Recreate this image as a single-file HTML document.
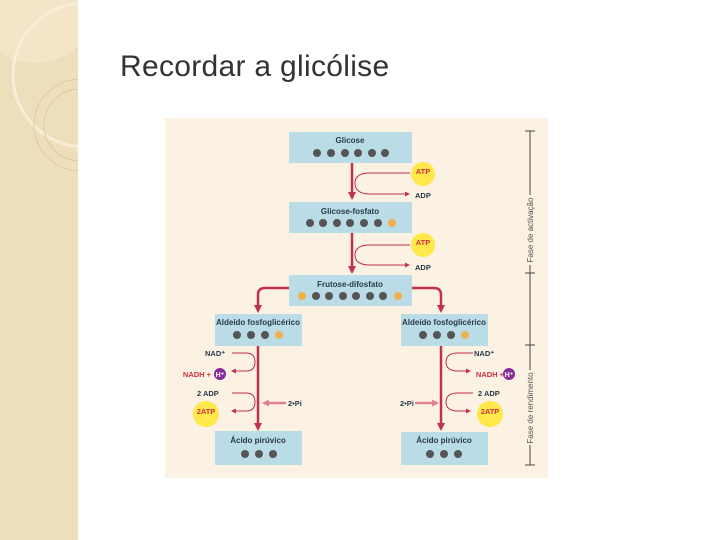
<!DOCTYPE html>
<html><head><meta charset="utf-8"><style>
body{margin:0;width:720px;height:540px;background:#fff;position:relative;overflow:hidden;font-family:"Liberation Sans",sans-serif}
.side{position:absolute;left:0;top:0;width:78px;height:540px;background:#eedfbc}
h1{position:absolute;left:120px;top:50px;margin:0;font-weight:normal;font-size:30px;color:#333;letter-spacing:0.3px}
svg{position:absolute;left:0;top:0}
</style></head><body>
<div class="side"></div>
<h1>Recordar a glicólise</h1>
<svg width="720" height="540" font-family="Liberation Sans, sans-serif">
<defs>
<clipPath id="c"><rect x="0" y="0" width="78" height="540"/></clipPath>
<marker id="a" markerUnits="userSpaceOnUse" markerWidth="8" markerHeight="8" refX="6" refY="4" orient="auto"><path d="M0,0L8,4L0,8z" fill="#c0304f"/></marker>
<marker id="b" markerUnits="userSpaceOnUse" markerWidth="5" markerHeight="5" refX="4" refY="2.5" orient="auto"><path d="M0,0L5,2.5L0,5z" fill="#c0304f"/></marker>
<marker id="p" markerUnits="userSpaceOnUse" markerWidth="7" markerHeight="7" refX="5" refY="3.5" orient="auto"><path d="M0,0L7,3.5L0,7z" fill="#e08090"/></marker>
</defs>
<g clip-path="url(#c)">
<circle cx="35" cy="0" r="63" fill="#f3e6c8"/>
<circle cx="85" cy="75" r="72" fill="none" stroke="#f8eed6" stroke-width="3"/>
<circle cx="80" cy="125" r="46" fill="none" stroke="#d9c59c" stroke-width="0.8"/>
<circle cx="80" cy="125" r="36" fill="none" stroke="#d9c59c" stroke-width="0.8"/>
</g>
<rect x="165" y="118" width="383" height="360" fill="#fbf2e4"/>
<g fill="#b9dce6">
<rect x="289" y="132" width="123" height="31"/><rect x="289" y="202" width="123" height="31"/><rect x="289" y="275" width="123" height="31"/>
<rect x="215" y="314" width="87" height="32"/><rect x="401" y="314" width="87" height="32"/>
<rect x="215" y="431" width="87" height="34"/><rect x="401" y="432" width="87" height="33"/>
</g>
<g font-size="8" font-weight="bold" fill="#2a3a4a" text-anchor="middle">
<text x="350" y="143">Glicose</text><text x="350" y="214">Glicose-fosfato</text><text x="350" y="287">Frutose-difosfato</text>
<text x="258" y="325">Aldeído fosfoglicérico</text><text x="444" y="325">Aldeído fosfoglicérico</text>
<text x="258" y="443">Ácido pirúvico</text><text x="444" y="443">Ácido pirúvico</text>
</g>
<g fill="#555">
<circle cx="317" cy="153" r="4"/><circle cx="331" cy="153" r="4"/><circle cx="345" cy="153" r="4"/><circle cx="358" cy="153" r="4"/><circle cx="372" cy="153" r="4"/><circle cx="385" cy="153" r="4"/>
<circle cx="310" cy="223" r="4"/><circle cx="323" cy="223" r="4"/><circle cx="337" cy="223" r="4"/><circle cx="350" cy="223" r="4"/><circle cx="364" cy="223" r="4"/><circle cx="378" cy="223" r="4"/>
<circle cx="316" cy="296" r="4"/><circle cx="329" cy="296" r="4"/><circle cx="343" cy="296" r="4"/><circle cx="356" cy="296" r="4"/><circle cx="370" cy="296" r="4"/><circle cx="383" cy="296" r="4"/>
<circle cx="237" cy="335" r="4"/><circle cx="251" cy="335" r="4"/><circle cx="265" cy="335" r="4"/>
<circle cx="423" cy="335" r="4"/><circle cx="437" cy="335" r="4"/><circle cx="451" cy="335" r="4"/>
<circle cx="245" cy="454" r="4"/><circle cx="259" cy="454" r="4"/><circle cx="273" cy="454" r="4"/>
<circle cx="430" cy="454" r="4"/><circle cx="444" cy="454" r="4"/><circle cx="458" cy="454" r="4"/>
</g>
<g fill="#f0b050"><circle cx="392" cy="223" r="4"/><circle cx="302" cy="296" r="4"/><circle cx="398" cy="296" r="4"/><circle cx="279" cy="335" r="4"/><circle cx="465" cy="335" r="4"/></g>
<g stroke="#c0304f" stroke-width="2.5" fill="none" marker-end="url(#a)">
<path d="M352 163V198"/><path d="M352 233V272"/>
<path d="M289 288H265Q258 288 258 295V311"/><path d="M412 288H434Q441 288 441 295V311"/>
<path d="M258 346V429"/><path d="M441 346V429"/>
</g>
<g stroke="#c0304f" stroke-width="1" fill="none" marker-end="url(#b)">
<path d="M410 173H370Q355 173 355 183Q355 194 370 194H409"/>
<path d="M410 245H370Q355 245 355 255Q355 265 370 265H409"/>
<path d="M232 353H246Q255 353 255 362Q255 371 246 371H232"/>
<path d="M232 393H246Q255 393 255 402Q255 411 246 411H232"/>
<path d="M473 353H458Q446 353 446 362Q446 371 458 371H470"/>
<path d="M473 393H458Q446 393 446 402Q446 411 458 411H470"/>
</g>
<g stroke="#e08090" stroke-width="2.5" marker-end="url(#p)"><path d="M286 403H264"/><path d="M415 403H437"/></g>
<g fill="#ffe94a"><circle cx="423" cy="174" r="12"/><circle cx="423" cy="245" r="12"/><circle cx="206" cy="414" r="13"/><circle cx="490" cy="414" r="13"/></g>
<g font-size="7.5" font-weight="bold" fill="#d03040" text-anchor="middle">
<text x="423" y="174">ATP</text><text x="423" y="245">ATP</text><text x="206" y="414">2ATP</text><text x="490" y="414">2ATP</text>
<text x="197" y="377">NADH +</text><text x="490" y="377">NADH +</text></g>
<g font-size="7.5" font-weight="bold" fill="#2a3a4a">
<text x="415" y="198">ADP</text><text x="415" y="270">ADP</text><text x="205" y="356">NAD⁺</text><text x="474" y="356">NAD⁺</text>
<text x="197" y="396">2 ADP</text><text x="478" y="396">2 ADP</text><text x="288" y="406">2•Pi</text><text x="400" y="406">2•Pi</text></g>
<g fill="#8a2b9a"><circle cx="220" cy="374" r="6"/><circle cx="509" cy="374" r="6"/></g>
<g fill="#fff" font-size="7" font-weight="bold" text-anchor="middle"><text x="220" y="377">H⁺</text><text x="509" y="377">H⁺</text></g>
<path d="M530 131V465M525 131H535M525 465H535M525 273H535M525 345H535" stroke="#444" stroke-width="1" fill="none"/>
<rect x="527" y="195" width="6" height="70" fill="#fbf2e4"/><rect x="527" y="370" width="6" height="75" fill="#fbf2e4"/>
<g font-size="8" fill="#555" text-anchor="middle"><text transform="translate(533,230) rotate(-90)">Fase de activação</text><text transform="translate(533,408) rotate(-90)">Fase de rendimento</text></g>
</svg>
</body></html>
